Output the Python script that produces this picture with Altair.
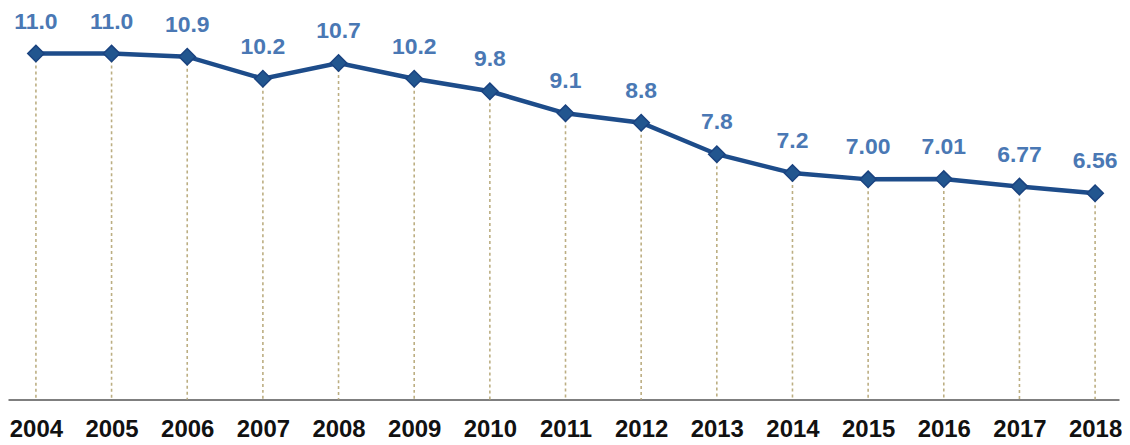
import altair as alt
import pandas as pd

years = [2004, 2005, 2006, 2007, 2008, 2009, 2010, 2011, 2012, 2013, 2014, 2015, 2016, 2017, 2018]
values = [11.0, 11.0, 10.9, 10.2, 10.7, 10.2, 9.8, 9.1, 8.8, 7.8, 7.2, 7.00, 7.01, 6.77, 6.56]
labels = ["11.0", "11.0", "10.9", "10.2", "10.7", "10.2", "9.8", "9.1", "8.8", "7.8", "7.2", "7.00", "7.01", "6.77", "6.56"]

df = pd.DataFrame({"year": years, "value": values, "label": labels, "zero": [0] * len(years)})

xs = alt.Scale(domain=[2003.631, 2018.316], nice=False, zero=False)
ys = alt.Scale(domain=[0, 12.43], nice=False)

base = alt.Chart(df)

x_enc = alt.X("year:Q", scale=xs, axis=alt.Axis(
    values=years, format="d", title=None, grid=False, ticks=False,
    domain=True, domainColor="#555555", domainWidth=1.5,
    labelFont="Liberation Sans", labelFontWeight="bold", labelFontSize=24,
    labelColor="#111111", labelPadding=18))

rules = base.mark_rule(color="#bcae82", strokeDash=[3, 3], strokeWidth=1.6).encode(
    x=x_enc,
    y=alt.Y("value:Q", scale=ys, axis=None),
    y2="zero:Q",
)

line = base.mark_line(color="#1d4c8a", strokeWidth=4.5).encode(
    x=alt.X("year:Q", scale=xs),
    y=alt.Y("value:Q", scale=ys),
)

points = base.mark_point(shape="diamond", filled=True, size=270, color="#22568f",
                         stroke="#1a4380", strokeWidth=1.5, opacity=1).encode(
    x=alt.X("year:Q", scale=xs),
    y=alt.Y("value:Q", scale=ys),
)

text = base.mark_text(dy=-32, font="Liberation Sans", fontWeight="bold", fontSize=23,
                      color="#4a78b4").encode(
    x=alt.X("year:Q", scale=xs),
    y=alt.Y("value:Q", scale=ys),
    text="label:N",
)

chart = alt.layer(rules, line, points, text).properties(
    width=1114, height=392, padding=0, background="white"
).configure_view(stroke=None)

chart.save("out.html", embed_options={"renderer": "svg", "actions": False})
